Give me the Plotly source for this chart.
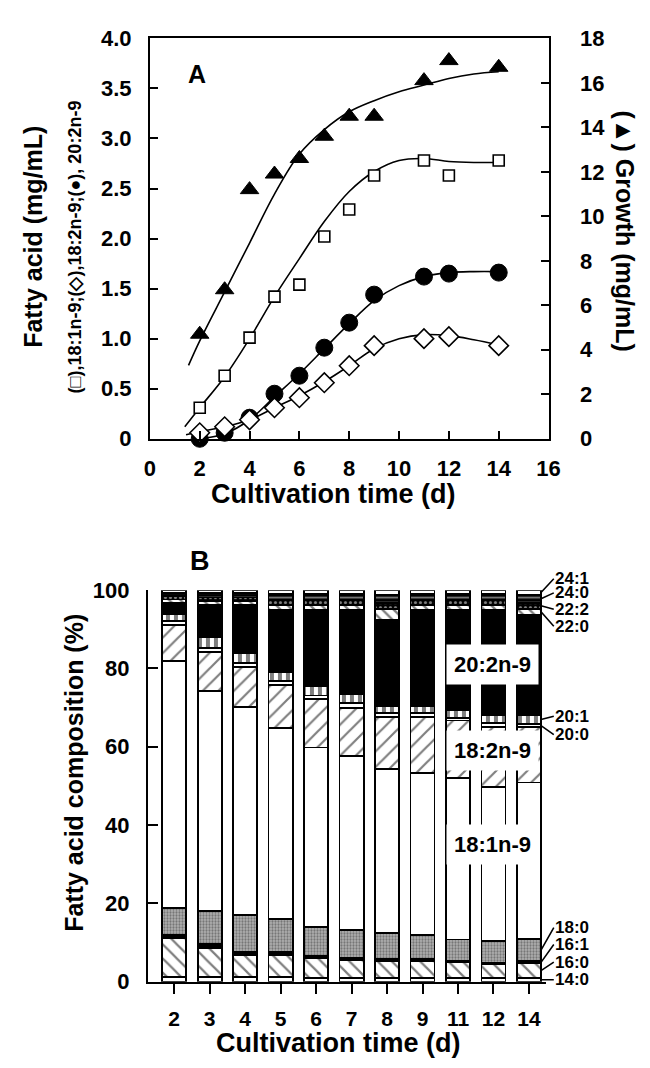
import plotly.graph_objects as go

# ---------------- Panel A data ----------------
days_a = [2, 3, 4, 5, 6, 7, 8, 9, 11, 12, 14]
oleic = [0.31, 0.63, 1.01, 1.42, 1.54, 2.02, 2.29, 2.63, 2.78, 2.63, 2.78]      # 18:1n-9 (squares)
c18_2_mg = [0.06, 0.12, 0.19, 0.31, 0.41, 0.56, 0.73, 0.93, 1.00, 1.02, 0.93]  # 18:2n-9 (diamonds)
c20_2_mg = [0.00, 0.06, 0.21, 0.45, 0.63, 0.91, 1.16, 1.44, 1.62, 1.65, 1.66]  # 20:2n-9 (circles)
growth = [4.7, 6.7, 11.2, 11.9, 12.6, 13.6, 14.5, 14.5, 16.1, 17.0, 16.7]     # growth (triangles)

# fitted curves
fit_growth_x = [1.55, 2, 3, 4, 5, 6, 7, 8, 9, 10, 11, 12, 13, 14]
fit_growth_y = [3.3, 4.4, 6.6, 8.8, 11.0, 12.8, 13.9, 14.7, 15.2, 15.6, 15.9, 16.2, 16.4, 16.5]
fit_oleic_x = [1.4, 2, 3, 4, 5, 6, 7, 8, 9, 10, 11, 12, 13, 14]
fit_oleic_y = [0.12, 0.31, 0.62, 1.0, 1.42, 1.8, 2.17, 2.47, 2.67, 2.78, 2.80, 2.77, 2.76, 2.76]
fit_182_x = [1.45, 2, 3, 4, 5, 6, 7, 8, 9, 10, 11, 12, 13, 14]
fit_182_y = [0.04, 0.07, 0.12, 0.19, 0.31, 0.43, 0.57, 0.73, 0.90, 1.00, 1.04, 1.03, 0.99, 0.94]
fit_202_x = [2, 3, 4, 5, 6, 7, 8, 9, 10, 11, 12, 13, 14]
fit_202_y = [0.0, 0.05, 0.19, 0.42, 0.65, 0.90, 1.15, 1.38, 1.53, 1.62, 1.66, 1.67, 1.67]

# ---------------- Panel B data (%) ----------------
days_b = ["2", "3", "4", "5", "6", "7", "8", "9", "11", "12", "14"]
c14_0 = [1.3, 1.3, 1.3, 1.3, 1.0, 1.0, 1.0, 1.0, 1.0, 1.0, 1.0]
c16_0 = [9.8, 7.4, 5.5, 5.5, 5.0, 4.5, 4.2, 4.3, 3.9, 3.5, 3.7]
c16_1 = [0.9, 0.9, 0.8, 0.8, 0.7, 0.7, 0.6, 0.5, 0.4, 0.4, 0.5]
c18_0 = [6.8, 8.4, 9.5, 8.4, 7.3, 7.1, 6.6, 6.2, 5.5, 5.6, 5.8]
c18_1 = [63.2, 56.2, 53.1, 48.9, 45.8, 44.3, 42.0, 41.3, 41.2, 39.3, 39.9]
c18_2 = [9.1, 10.1, 10.1, 10.9, 12.4, 12.4, 13.2, 14.3, 14.7, 15.3, 14.1]
c20_0 = [1.0, 1.0, 1.0, 1.1, 0.9, 1.1, 1.0, 1.0, 0.7, 0.9, 0.8]
c20_1 = [1.7, 2.7, 2.7, 2.2, 2.3, 2.4, 1.8, 1.8, 1.9, 2.0, 2.3]
c20_2 = [3.0, 8.3, 12.3, 15.9, 19.6, 21.5, 22.0, 24.6, 25.7, 27.0, 25.7]
c22_0 = [0.8, 0.9, 0.9, 1.2, 1.2, 1.2, 2.7, 1.2, 1.2, 1.2, 1.4]
c22_2 = [0.8, 0.9, 0.9, 1.3, 1.3, 1.3, 1.6, 1.3, 1.3, 1.3, 1.6]
c24_0 = [0.9, 1.1, 1.1, 1.5, 1.5, 1.5, 2.2, 1.5, 1.5, 1.5, 2.0]
c24_1 = [0.7, 0.8, 0.8, 1.0, 1.0, 1.0, 1.1, 1.0, 1.0, 1.0, 1.2]

components = ["14:0", "16:0", "16:1", "18:0", "18:1n-9", "18:2n-9", "20:0", "20:1",
              "20:2n-9", "22:0", "22:2", "24:0", "24:1"]
comp_values = [c14_0, c16_0, c16_1, c18_0, c18_1, c18_2, c20_0, c20_1,
               c20_2, c22_0, c22_2, c24_0, c24_1]
# side labels on the right and their text heights (%)
side_labels = ["14:0", "16:0", "16:1", "18:0", "20:0", "20:1", "22:0", "22:2", "24:0", "24:1"]
side_label_y = [0.5, 5.0, 9.5, 13.8, 63.1, 67.8, 90.8, 95.1, 99.3, 102.9]
# inline labels
inline_labels = ["20:2n-9", "18:2n-9", "18:1n-9"]
inline_label_y = [81, 59, 35]

W, H = 650, 1068
FONT = "Liberation Sans"

def bfont(size, color="black"):
    return dict(family=FONT, size=size, color=color, weight="bold")

fig = go.Figure()

# ---- Panel A ----
line_style = dict(color="black", width=1.6, shape="spline", smoothing=1.0)
fig.add_trace(go.Scatter(x=fit_growth_x, y=fit_growth_y, mode="lines", line=line_style,
                         xaxis="x", yaxis="y2", hoverinfo="skip"))
for fx, fy in [(fit_oleic_x, fit_oleic_y), (fit_182_x, fit_182_y), (fit_202_x, fit_202_y)]:
    fig.add_trace(go.Scatter(x=fx, y=fy, mode="lines", line=line_style,
                             xaxis="x", yaxis="y", hoverinfo="skip"))

fig.add_trace(go.Scatter(x=days_a, y=c20_2_mg, mode="markers", cliponaxis=False,
                         marker=dict(symbol="circle", size=17, color="black",
                                     line=dict(color="black", width=1)),
                         xaxis="x", yaxis="y"))
fig.add_trace(go.Scatter(x=days_a, y=c18_2_mg, mode="markers", cliponaxis=False,
                         marker=dict(symbol="diamond", size=15, color="white",
                                     line=dict(color="black", width=1.6)),
                         xaxis="x", yaxis="y"))
fig.add_trace(go.Scatter(x=days_a, y=oleic, mode="markers", cliponaxis=False,
                         marker=dict(symbol="square", size=11, color="white",
                                     line=dict(color="black", width=1.6)),
                         xaxis="x", yaxis="y"))
fig.add_trace(go.Scatter(x=days_a, y=growth, mode="markers", cliponaxis=False,
                         marker=dict(symbol="triangle-up", size=16, color="black",
                                     line=dict(color="black", width=1)),
                         xaxis="x", yaxis="y2"))

# ---- Panel B ----
styles = {
    "14:0": dict(color="white"),
    "16:0": dict(color="white", pattern=dict(shape="\\", fgcolor="black", bgcolor="white", size=10, solidity=0.22)),
    "16:1": dict(color="black"),
    "18:0": dict(color="#9a9a9a", pattern=dict(shape=".", fgcolor="#303030", bgcolor="#b4b4b4", size=3, solidity=0.45)),
    "18:1n-9": dict(color="white"),
    "18:2n-9": dict(color="white", pattern=dict(shape="/", fgcolor="black", bgcolor="white", size=11, solidity=0.2)),
    "20:0": dict(color="white"),
    "20:1": dict(color="white", pattern=dict(shape="|", fgcolor="black", bgcolor="white", size=8, solidity=0.5)),
    "20:2n-9": dict(color="black"),
    "22:0": dict(color="white", pattern=dict(shape="\\", fgcolor="black", bgcolor="white", size=8, solidity=0.3)),
    "22:2": dict(color="black", pattern=dict(shape=".", fgcolor="white", bgcolor="black", size=5, solidity=0.3)),
    "24:0": dict(color="black", pattern=dict(shape="-", fgcolor="white", bgcolor="black", size=5, solidity=0.35)),
    "24:1": dict(color="white"),
}
xpos = list(range(len(days_b)))
for name, vals in zip(components, comp_values):
    st = dict(styles[name])
    st["line"] = dict(color="black", width=1.8)
    fig.add_trace(go.Bar(x=xpos, y=vals, name=name, width=0.68, marker=st,
                         cliponaxis=False, xaxis="x2", yaxis="y3"))

# cumulative positions of bar 14 for leader lines
last = len(days_b) - 1
cum = 0.0
mids = {}
for name, vals in zip(components, comp_values):
    mids[name] = cum + vals[last] / 2.0
    cum += vals[last]

annotations = []
bar_edge = last + 0.34
for lab, ly in zip(side_labels, side_label_y):
    annotations.append(dict(x=bar_edge, y=mids[lab], xref="x2", yref="y3",
                            ax=bar_edge + 0.36, ay=ly, axref="x2", ayref="y3",
                            text=lab, showarrow=True, arrowhead=0, arrowwidth=1.6,
                            arrowcolor="black", xanchor="left", yanchor="middle",
                            font=bfont(17), borderpad=0, standoff=0))
for lab, ly in zip(inline_labels, inline_label_y):
    annotations.append(dict(x=8.96, y=ly, xref="x2", yref="y3", text=lab, showarrow=False,
                            xanchor="center", yanchor="middle",
                            bgcolor="white", borderpad=7, font=bfont(22)))

def txt(x, y, text, size, angle=0):
    return dict(x=x, y=y, xref="paper", yref="paper", text=text, textangle=angle,
                showarrow=False, xanchor="center", yanchor="middle", font=bfont(size))

# titles and panel letters
annotations += [
    txt(27 / W, (H - 230) / H, "Fatty acid (mg/mL)", 25, -90),
    txt(71 / W, (H - 241) / H, "(\u25a1),18:1n-9;(\u25c7),18:2n-9;(\u25cf), 20:2n-9", 18, -90),
    txt(637 / W, (H - 224) / H, "(\u25b2) Growth (mg/mL)", 25, 90),
    txt(337 / W, (H - 494) / H, "Cultivation time (d)", 27),
    txt(342 / W, (H - 1056) / H, "Cultivation time (d)", 27),
    txt(70 / W, (H - 779) / H, "Fatty acid composition (%)", 25, -90),
    txt(196 / W, (H - 63) / H, "A", 25),
    txt(200 / W, (H - 562) / H, "B", 27),
]

axis_common = dict(showgrid=False, zeroline=False, showline=True, linecolor="black",
                   linewidth=2, tickcolor="black", tickwidth=2)

left_vals = [0, 0.5, 1.0, 1.5, 2.0, 2.5, 3.0, 3.5, 4.0]
left_text = ["0", "0.5", "1.0", "1.5", "2.0", "2.5", "3.0", "3.5", "4.0"]

fig.update_layout(
    width=W, height=H, margin=dict(l=0, r=0, t=0, b=0),
    paper_bgcolor="white", plot_bgcolor="white", showlegend=False,
    barmode="stack", bargap=0.32,
    xaxis=dict(domain=[148 / W, 558 / W], range=[0, 16], tickvals=list(range(0, 17, 2)),
               ticks="inside", ticklen=8, mirror=True, anchor="y",
               tickfont=bfont(22), ticklabelstandoff=9, **axis_common),
    yaxis=dict(domain=[(H - 437) / H, (H - 27) / H], range=[0, 4], tickvals=left_vals,
               ticktext=left_text, ticks="inside", ticklen=8, mirror=True, anchor="x",
               tickfont=bfont(22), ticklabelstandoff=12, **axis_common),
    yaxis2=dict(overlaying="y", side="right", range=[0, 18], tickvals=list(range(0, 19, 2)),
                ticks="inside", ticklen=8, anchor="x", tickfont=bfont(22),
                ticklabelstandoff=25, **axis_common),
    xaxis2=dict(domain=[146 / W, 555 / W], range=[-0.74, 10.47], tickvals=xpos,
                ticktext=days_b, ticks="outside", ticklen=10, anchor="y3",
                tickfont=bfont(21), ticklabelstandoff=7, **axis_common),
    yaxis3=dict(domain=[(H - 993) / H, (H - 592) / H], range=[0, 100],
                tickvals=list(range(0, 101, 20)), ticks="inside", ticklen=10, anchor="x2",
                tickfont=bfont(22), ticklabelstandoff=12, **axis_common),
    annotations=annotations,
)

fig.write_html("out.html")
